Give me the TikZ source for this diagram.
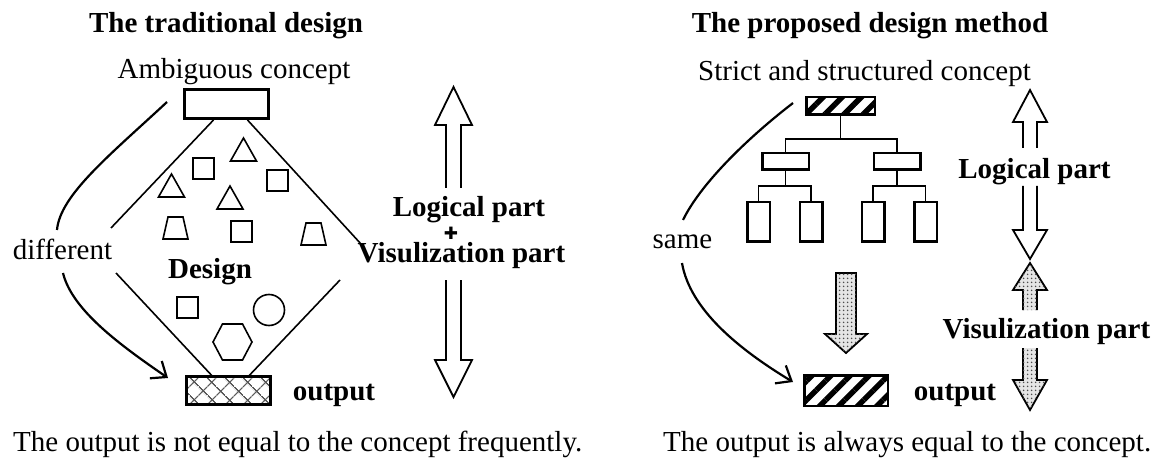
\documentclass[tikz,border=0pt]{standalone}
\usepackage{fontspec}
\setmainfont{Liberation Serif}
\newfontfamily\plusfont{DejaVu Sans}
\usetikzlibrary{arrows.meta,patterns.meta}

\begin{document}
\begin{tikzpicture}[x=1pt,y=-1pt,
    lbl/.style={inner sep=0pt, anchor=base, font=\fontsize{29}{34}\selectfont},
    bold/.style={lbl, font=\fontsize{29}{34}\selectfont\bfseries},
    box/.style={draw, line width=3pt, inner sep=0pt},
    thin/.style={line width=1.6pt},
    curvy/.style={line width=2.2pt},
    hollow/.style={line width=1.8pt, fill=white},
    dotty/.style={line width=1.8pt, fill=gray!20,
        postaction={pattern={Dots[distance=4pt,radius=1pt]}, pattern color=gray!60!black}},
    cross/.style={pattern={Hatch[angle=45,distance=13pt,line width=1.5pt]}, pattern color=black!65},
    stripes/.style={pattern={Lines[angle=45,distance=13.5pt,line width=5.5pt]}},
]
\useasboundingbox (0,0) rectangle (1161,462);

% The traditional design (left)
\node[bold] (ttl1) at (226,33) {The traditional design};
\node[lbl] (amblbl) at (234,79) {Ambiguous concept};
\node[box, minimum width=84pt, minimum height=29pt] (amb) at (226.5,104) {};
\node[box, cross, minimum width=84pt, minimum height=28pt] (out1) at (228.5,390.5) {};
\node[bold] (outlbl1) at (334,400) {output};
\node[bold] (design) at (210,278) {Design};
\node[lbl] (diff) at (62.5,259) {different};

% diamond
\coordinate (dl1) at (111,228);
\coordinate (dr1) at (361,244);
\coordinate (dl2) at (116,273);
\coordinate (dr2) at (340,280);
\draw[thin] ([xshift=-13pt]amb.south) -- (dl1);
\draw[thin] ([xshift=21pt]amb.south) -- (dr1);
\draw[thin] (dl2) -- ([xshift=-16.5pt]out1.north);
\draw[thin] (dr2) -- ([xshift=20.5pt]out1.north);

% shapes inside
\foreach \x/\y in {193/158, 267/170, 231/221, 177/297}
    \draw[thin] (\x,\y) rectangle ++(21,21);
\foreach \x/\y in {243.5/138, 171.5/174, 230/186}
    \draw[thin] (\x,\y) -- ++(13,23) -- ++(-26,0) -- cycle;
\foreach \x/\y in {175.5/217, 313.5/223}
    \draw[thin] (\x-7.5,\y) -- ++(15,0) -- ++(5,22) -- ++(-25,0) -- cycle;
\draw[thin] (269,310) circle (15.5);
\draw[thin] (213,342) -- (222.5,324) -- (242.5,324) -- (252,342) -- (242.5,360) -- (222.5,360) -- cycle;

% different
\coordinate (c1) at (167,102);
\coordinate (c2) at (57,230);
\coordinate (c3) at (63,273);
\coordinate (c4) at (168,378);
\draw[curvy] (c1) .. controls (110,155) and (60,195) .. (c2);
\draw[curvy, -{Straight Barb[length=13pt,width=21pt]}] (c3) .. controls (72,310) and (120,345) .. (c4);

% double arrow
\draw[hollow] (446,188) -- (446,125) -- (435,125) -- (453.5,87) -- (472,125) -- (461,125) -- (461,188);
\draw[hollow] (446,280) -- (446,360) -- (435,360) -- (453.5,397) -- (472,360) -- (461,360) -- (461,280);
\node[bold] (logic1) at (469,217) {Logical part};
\node[inner sep=0pt, font=\fontsize{17}{17}\plusfont] (plus) at (451,233) {✚};
\node[bold] (vis1) at (461.5,262) {Visulization part};

% The proposed design method (right)
\node[bold] (ttl2) at (870,33) {The proposed design method};
\node[lbl] (strlbl) at (864.5,81) {Strict and structured concept};
\node[box, stripes, line width=2.5pt, minimum width=68.5pt, minimum height=17.5pt] (cs) at (840.5,106) {};
\node[box, line width=2.5pt, minimum width=46.5pt, minimum height=16.5pt] (m1) at (785.5,161.5) {};
\node[box, line width=2.5pt, minimum width=46.5pt, minimum height=16.5pt] (m2) at (897,161.5) {};
\foreach \n/\x in {l1/758.5, l2/811, l3/873, l4/925.5}
    \node[box, line width=2.5pt, minimum width=22.5pt, minimum height=39.5pt] (\n) at (\x,222) {};

% tree
\draw[thin] (cs.south) -- ++(0,23) coordinate (j0) -| (m1.north);
\draw[thin] (j0) -| (m2.north);
\draw[thin] (m1.south) -- ++(0,15) coordinate (j1) -| (l1.north);
\draw[thin] (j1) -| (l2.north);
\draw[thin] (m2.south) -- ++(0,15) coordinate (j2) -| (l3.north);
\draw[thin] (j2) -| (l4.north);

\draw[dotty] (836,273) -- (836,334) -- (825,334) -- (846,353) -- (867,334) -- (856,334) -- (856,273) -- cycle;
\node[box, stripes, line width=2.5pt, minimum width=83.5pt, minimum height=30.5pt] (out2) at (846,390.5) {};
\node[bold] (outlbl2) at (955,400) {output};
\node[lbl] (same) at (682.5,248) {same};

% same
\coordinate (s1) at (793,103);
\coordinate (s2) at (683,220);
\coordinate (s3) at (682,263);
\coordinate (s4) at (793,382);
\draw[curvy] (s1) .. controls (745,140) and (700,185) .. (s2);
\draw[curvy, -{Straight Barb[length=13pt,width=21pt]}] (s3) .. controls (690,310) and (740,350) .. (s4);

% logical / visulization arrows
\draw[hollow] (1023,148) -- (1023,122) -- (1013,122) -- (1030,90) -- (1047,122) -- (1037,122) -- (1037,148);
\draw[hollow] (1023,186) -- (1023,230) -- (1013,230) -- (1030,259) -- (1047,230) -- (1037,230) -- (1037,186);
\draw[dotty] (1023,310) -- (1023,290) -- (1013,290) -- (1030,263) -- (1047,290) -- (1037,290) -- (1037,310);
\draw[dotty] (1023,348) -- (1023,380) -- (1013,380) -- (1030,410) -- (1047,380) -- (1037,380) -- (1037,348);
\node[bold] (logic2) at (1034.5,179) {Logical part};
\node[bold] (vis2) at (1046.5,338) {Visulization part};

% captions
\node[lbl, anchor=base west] (cap1) at (13,451) {The output is not equal to the concept frequently.};
\node[lbl, anchor=base west] (cap2) at (663,451) {The output is always equal to the concept.};

\end{tikzpicture}
\end{document}
